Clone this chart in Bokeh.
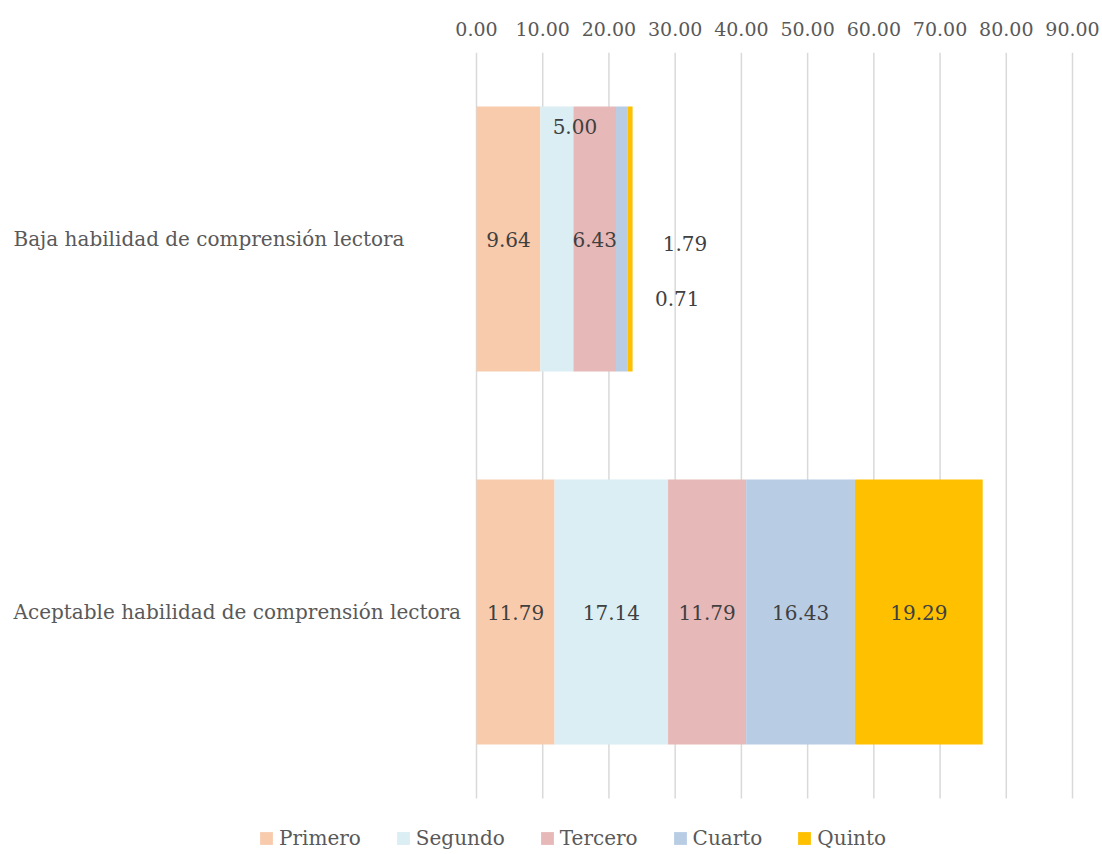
from bokeh.plotting import figure
from bokeh.models import (ColumnDataSource, Range1d, Legend, LegendItem,
                          FixedTicker, NumeralTickFormatter)
from bokeh.core.properties import value
from bokeh.embed import file_html
from bokeh.resources import INLINE

# ---------------- data ----------------
categories = ["Baja habilidad de comprensión lectora",
              "Aceptable habilidad de comprensión lectora"]
series = ["Primero", "Segundo", "Tercero", "Cuarto", "Quinto"]
primero = [9.64, 11.79]
segundo = [5.00, 17.14]
tercero = [6.43, 11.79]
cuarto = [1.79, 16.43]
quinto = [0.71, 19.29]
x_ticks = [0, 10, 20, 30, 40, 50, 60, 70, 80, 90]

# ---------------- style / layout ----------------
colors = ["#F8CBAD", "#DAEEF3", "#E6B8B7", "#B8CCE4", "#FFC000"]
FONT = "DejaVu Serif"
TXT = "#595959"
LBL = "#404040"
W, H = 1102, 854
PLOT_L, PLOT_R = 476, 1072      # pixel position of 0 and of the axis maximum
PLOT_T, PLOT_B = 52, 798        # top / bottom of the category band
AX_MAX = x_ticks[-1]
ppu = (PLOT_R - PLOT_L) / AX_MAX
n = len(categories)
ppc = (PLOT_B - PLOT_T) / n     # pixels per category
# pixel nudges of the data labels (Excel moved the small ones out of the way)
label_dx = {0: [0, 18, 0, 63, 47], 1: [0, 0, 0, 0, 0]}
label_dy = {0: [0, -113, 0, 4, 59], 1: [0, 0, 0, 0, 0]}

ypos = [n - i - 0.5 for i in range(n)]   # first category on top
data = dict(cat=categories, y=ypos)
all_vals = [primero, segundo, tercero, cuarto, quinto]
for name, vals in zip(series, all_vals):
    data[name] = vals
source = ColumnDataSource(data)

p = figure(width=W, height=H,
           x_range=Range1d(-PLOT_L / ppu, AX_MAX + (W - PLOT_R) / ppu),
           y_range=Range1d(-(H - PLOT_B) / ppc, n),
           x_axis_location="above", y_axis_location=None,
           output_backend="svg", toolbar_location=None,
           min_border_left=0, min_border_right=0,
           min_border_top=PLOT_T, min_border_bottom=0)
p.outline_line_color = None
p.background_fill_color = "white"
p.border_fill_color = "white"
p.xgrid.grid_line_color = None
for g in p.ygrid:
    g.grid_line_color = None

# vertical gridlines limited to the category band
p.segment(x0=x_ticks, x1=x_ticks, y0=[0] * len(x_ticks), y1=[n] * len(x_ticks),
          line_color="#D9D9D9", line_width=1.5)

renderers = p.hbar_stack(series, y="y", height=0.71, color=colors,
                         line_color=None, source=source)

# data labels
lx, ly, lt, dx, dy = [], [], [], [], []
for ci in range(n):
    left = 0.0
    for si in range(len(series)):
        v = all_vals[si][ci]
        lx.append(left + v / 2.0)
        ly.append(ypos[ci])
        lt.append(f"{v:.2f}")
        dx.append(label_dx[ci][si])
        dy.append(label_dy[ci][si])
        left += v
p.text(x=lx, y=ly, text=lt, x_offset=dx, y_offset=dy,
       text_align="center", text_baseline="middle",
       text_font=value(FONT), text_font_size="20px", text_color=LBL)

# category labels (left aligned, like the Excel original)
p.text(x=[0] * n, y=ypos, text=categories, x_offset=13 - PLOT_L,
       text_align="left", text_baseline="middle",
       text_font=value(FONT), text_font_size="20px", text_color=TXT)

ax = p.xaxis[0]
ax.ticker = FixedTicker(ticks=x_ticks)
ax.formatter = NumeralTickFormatter(format="0.00")
ax.axis_line_color = None
ax.major_tick_line_color = None
ax.minor_tick_line_color = None
ax.major_tick_out = 0
ax.major_label_standoff = 17
ax.major_label_text_font = FONT
ax.major_label_text_font_size = "19px"
ax.major_label_text_color = TXT

legend = Legend(items=[LegendItem(label=s, renderers=[r]) for s, r in zip(series, renderers)],
                orientation="horizontal", location=(258, 4),
                glyph_width=16, glyph_height=16, label_standoff=5, spacing=34,
                padding=0, margin=0, border_line_color=None,
                background_fill_alpha=0,
                label_text_font=FONT, label_text_font_size="20px", label_text_color=TXT)
p.add_layout(legend, "center")

open("out.html", "w").write(file_html(p, INLINE))
